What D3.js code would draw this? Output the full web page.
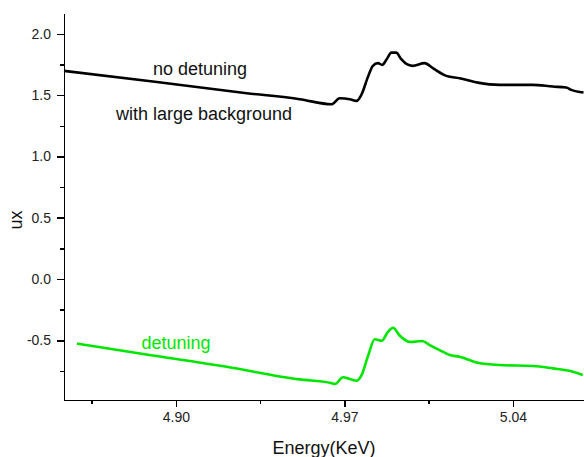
<!DOCTYPE html>
<html>
<head>
<meta charset="utf-8">
<script src="https://d3js.org/d3.v7.min.js"></script>
<style>
  body { margin: 0; background: #fff; }
  svg text { font-family: "Liberation Sans", Arial, sans-serif; }
  .axis path, .axis line { stroke: #000; stroke-width: 1.5; shape-rendering: crispEdges; }
  .axis text { font-size: 14px; fill: #222; }
</style>
</head>
<body>
<div id="chart"></div>
<script>
// no detuning (black)
var energyBlack = [4.8535, 4.8904, 4.9294, 4.9514, 4.9646, 4.9680, 4.9722, 4.9750, 4.9770, 4.9798,
  4.9818, 4.9839, 4.9857, 4.9874, 4.9895, 4.9915, 4.9936, 4.9957, 4.9983, 5.0033,
  5.0067, 5.0123, 5.0178, 5.0254, 5.0344, 5.0482, 5.0565, 5.0621, 5.0642, 5.0693];
var uxBlack = [1.698, 1.611, 1.516, 1.467, 1.426, 1.474, 1.467, 1.453, 1.502, 1.651,
  1.739, 1.761, 1.747, 1.788, 1.847, 1.847, 1.793, 1.755, 1.739, 1.761,
  1.720, 1.657, 1.638, 1.602, 1.584, 1.584, 1.570, 1.562, 1.543, 1.521];

// detuning (green)
var energyGreen = [4.8589, 4.8864, 4.9210, 4.9514, 4.9639, 4.9660, 4.9694, 4.9722, 4.9750, 4.9770,
  4.9798, 4.9826, 4.9855, 4.9881, 4.9902, 4.9929, 4.9974, 5.0023, 5.0054, 5.0095,
  5.0137, 5.0178, 5.0254, 5.0344, 5.0482, 5.0565, 5.0635, 5.0690];
var uxGreen = [-0.527, -0.612, -0.716, -0.819, -0.846, -0.857, -0.802, -0.816, -0.830, -0.788,
  -0.627, -0.491, -0.504, -0.430, -0.398, -0.461, -0.514, -0.506, -0.539, -0.580,
  -0.620, -0.634, -0.683, -0.702, -0.710, -0.729, -0.749, -0.784];

var xMajor = [4.90, 4.97, 5.04];
var xMinor = [4.865, 4.935, 5.005];
var yMajor = [-0.5, 0.0, 0.5, 1.0, 1.5, 2.0];
var yMinor = [-0.75, -0.25, 0.25, 0.75, 1.25, 1.75];

var width = 584, height = 457;
var margin = {left: 64, right: 584, top: 13, bottom: 400};

var svg = d3.select("#chart").append("svg")
  .attr("width", width)
  .attr("height", height);

var x = d3.scaleLinear().domain([4.8535, 5.0695]).range([margin.left, margin.right]);
var y = d3.scaleLinear().domain([-0.987, 2.17]).range([margin.bottom, margin.top]);

// axes
svg.append("g")
  .attr("class", "axis")
  .attr("transform", "translate(0," + margin.bottom + ")")
  .call(d3.axisBottom(x).tickValues(xMajor).tickSize(7).tickSizeOuter(0).tickPadding(5)
    .tickFormat(function(d) { return d.toFixed(2); }));
svg.append("g")
  .attr("class", "axis")
  .attr("transform", "translate(0," + margin.bottom + ")")
  .call(d3.axisBottom(x).tickValues(xMinor).tickSize(4).tickSizeOuter(0).tickFormat(""))
  .select(".domain").remove();

svg.append("g")
  .attr("class", "axis")
  .attr("transform", "translate(" + margin.left + ",0)")
  .call(d3.axisLeft(y).tickValues(yMajor).tickSize(7).tickSizeOuter(0).tickPadding(6)
    .tickFormat(function(d) { return d.toFixed(1); }));
svg.append("g")
  .attr("class", "axis")
  .attr("transform", "translate(" + margin.left + ",0)")
  .call(d3.axisLeft(y).tickValues(yMinor).tickSize(4).tickSizeOuter(0).tickFormat(""))
  .select(".domain").remove();

// axis titles
svg.append("text")
  .attr("x", 324).attr("y", 454)
  .attr("text-anchor", "middle")
  .style("font-size", "18px").attr("fill", "#111")
  .text("Energy(KeV)");
svg.append("text")
  .attr("transform", "translate(22,220)rotate(-90)")
  .attr("text-anchor", "middle")
  .style("font-size", "18px").attr("fill", "#111")
  .text("ux");

// lines
var line = d3.line()
  .x(function(d) { return x(d[0]); })
  .y(function(d) { return y(d[1]); })
  .curve(d3.curveMonotoneX);

svg.append("path")
  .datum(d3.zip(energyBlack, uxBlack))
  .attr("fill", "none")
  .attr("stroke", "#000")
  .attr("stroke-width", 2.6)
  .attr("stroke-linejoin", "round")
  .attr("d", line);

svg.append("path")
  .datum(d3.zip(energyGreen, uxGreen))
  .attr("fill", "none")
  .attr("stroke", "#00e600")
  .attr("stroke-width", 2.6)
  .attr("stroke-linejoin", "round")
  .attr("d", line);

// annotations
svg.append("text")
  .attr("x", 200).attr("y", 75)
  .attr("text-anchor", "middle")
  .style("font-size", "18px").attr("fill", "#111")
  .text("no detuning");
svg.append("text")
  .attr("x", 204).attr("y", 120)
  .attr("text-anchor", "middle")
  .style("font-size", "18px").attr("fill", "#111")
  .text("with large background");
svg.append("text")
  .attr("x", 176).attr("y", 349)
  .attr("text-anchor", "middle")
  .style("font-size", "18px").attr("fill", "#00e600")
  .text("detuning");
</script>
</body>
</html>
